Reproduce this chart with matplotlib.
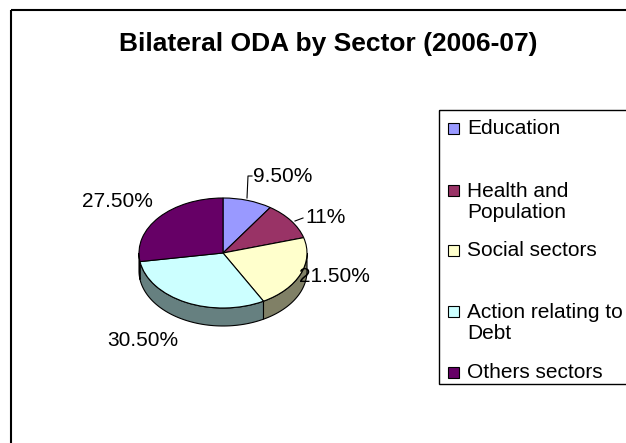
import matplotlib
matplotlib.use("Agg")
import matplotlib.pyplot as plt
from matplotlib.patches import Polygon, Rectangle
from matplotlib.transforms import Affine2D
import numpy as np

plt.rcParams['font.family'] = ['Liberation Sans', 'DejaVu Sans']

# data
sectors = ["Education", "Health and\nPopulation", "Social sectors",
           "Action relating to\nDebt", "Others sectors"]
shares = [9.5, 11, 21.5, 30.5, 27.5]
share_labels = ["9.50%", "11%", "21.50%", "30.50%", "27.50%"]
colors = ["#9999FF", "#993366", "#FFFFCC", "#CCFFFF", "#660066"]

# layout (pixels, y down)
cx, cy, rx, ry, depth = 223, 253, 84, 55, 18
label_pos = [(283, 177), (326, 217), (334, 277), (143, 341), (117, 201)]
legend_y = [128, 202, 250, 323, 372]

fig = plt.figure(figsize=(6.26, 4.43), dpi=100)
ax = fig.add_axes([0, 0, 1, 1])

# top face of the 3d pie (y axis is inverted, so counterclock draws clockwise)
wedges, _ = ax.pie(shares, colors=colors, startangle=270, counterclock=True,
                   wedgeprops=dict(edgecolor="black", linewidth=0.8))
tr = Affine2D().scale(rx, ry).translate(cx, cy) + ax.transData
for w in wedges:
    w.set_transform(tr)
    w.set_zorder(3)

# side walls for the front half
start = 270.0
for val, col in zip(shares, colors):
    end = start + val * 3.6
    a, b = max(start, 360.0), min(end, 540.0)
    if b > a:
        t = np.radians(np.linspace(a, b, 60))
        xs = cx + rx * np.cos(t)
        ys = cy + ry * np.sin(t)
        pts = np.column_stack([np.r_[xs, xs[::-1]], np.r_[ys, ys[::-1] + depth]])
        rgb = np.array(matplotlib.colors.to_rgb(col)) * 0.5
        ax.add_patch(Polygon(pts, closed=True, facecolor=rgb, edgecolor="black",
                             linewidth=0.8, zorder=2))
    start = end

ax.set_aspect("auto")
ax.set_xlim(0, 626)
ax.set_ylim(443, 0)
ax.axis("off")

# percentage labels
for (x, y), s in zip(label_pos, share_labels):
    ax.text(x, y, s, fontsize=15, ha="center", va="center", zorder=5)
ax.plot([252, 248, 247], [176, 176, 198], color="black", lw=0.8, zorder=4)
ax.plot([295, 303], [221, 218], color="black", lw=0.8, zorder=4)

# title
ax.text(328, 44, "Bilateral ODA by Sector (2006-07)", fontsize=19,
        fontweight="bold", ha="center", va="center")

# chart border and legend box
ax.add_patch(Rectangle((11, 10), 800, 600, fill=False, edgecolor="black", lw=1.5))
ax.add_patch(Rectangle((439, 110), 300, 274, fill=False, edgecolor="black", lw=1))
for y, name, col in zip(legend_y, sectors, colors):
    first = y - 12 if "\n" in name else y
    ax.add_patch(Rectangle((448, first - 5.5), 11, 11, facecolor=col,
                           edgecolor="black", lw=0.8))
    ax.text(467, y, name, fontsize=15, ha="left", va="center", linespacing=1.15)

fig.savefig("out.png", dpi=100)
